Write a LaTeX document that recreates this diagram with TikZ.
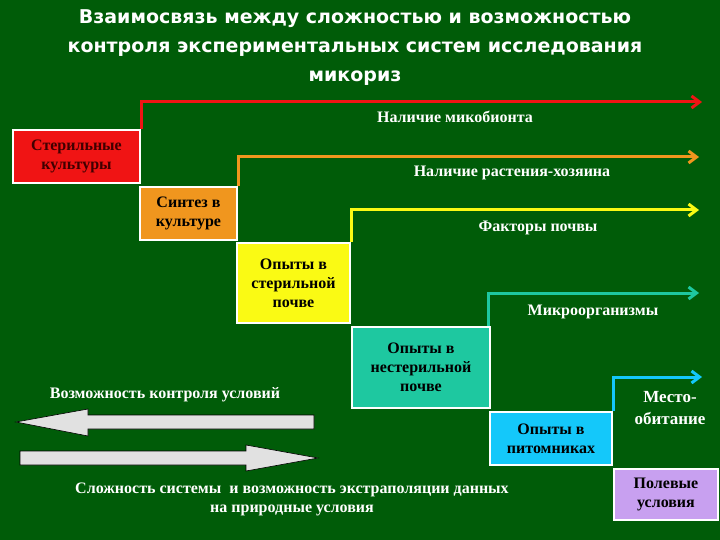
\documentclass[tikz,border=0pt]{standalone}
\usepackage{fontspec}
\setmainfont{Liberation Serif}
\newfontfamily\titlefont{DejaVu Sans}
\usetikzlibrary{arrows.meta}
\definecolor{bg}{RGB}{0,92,8}
\definecolor{cred}{RGB}{240,20,20}
\definecolor{corange}{RGB}{240,150,30}
\definecolor{cyellow}{RGB}{250,250,20}
\definecolor{cteal}{RGB}{30,200,160}
\definecolor{ccyan}{RGB}{20,200,250}
\definecolor{cviolet}{RGB}{200,160,240}
\definecolor{cgrey}{RGB}{225,225,225}
\begin{document}
\begin{tikzpicture}[x=1pt,y=-1pt,
  box/.style={draw=white,line width=2.5pt,align=center,inner sep=0pt,font=\bfseries\fontsize{16}{19}\selectfont,text=black},
  lbl/.style={text=white,font=\bfseries\fontsize{16}{19}\selectfont,align=center},
  stair/.style={line width=3pt,-{Straight Barb[length=8pt,width=12pt]}},
  bigarrow/.style={fill=cgrey,draw=black,line width=0.6pt}]
\fill[bg] (0,0) rectangle (720,540);
\useasboundingbox (0,0) rectangle (720,540);
\node[text=white,font=\titlefont\bfseries\fontsize{19}{29}\selectfont,align=center] (title) at (355,48)
 {Взаимосвязь между сложностью и возможностью\\контроля экспериментальных систем исследования\\микориз};
% boxes
\node[box,fill=cred,minimum width=127pt,minimum height=53pt,text=black!75!red] (b1) at (76.5,156.5) {Стерильные\\культуры};
\node[box,fill=corange,minimum width=97pt,minimum height=53pt] (b2) at (188.5,213.5) {Синтез в\\культуре};
\node[box,fill=cyellow,minimum width=113pt,minimum height=80pt] (b3) at (293.5,283) {Опыты в\\стерильной\\почве};
\node[box,fill=cteal,minimum width=138pt,minimum height=81pt] (b4) at (421,367.5) {Опыты в\\нестерильной\\почве};
\node[box,fill=ccyan,minimum width=122pt,minimum height=53pt] (b5) at (551,438.5) {Опыты в\\питомниках};
\node[box,fill=cviolet,minimum width=104pt,minimum height=51pt] (b6) at (666,494.5) {Полевые\\условия};
% stairs
\coordinate (e1) at (702,102);
\coordinate (e2) at (699,157);
\coordinate (e3) at (699,210);
\coordinate (e4) at (699,293);
\coordinate (e5) at (702,377);
\draw[stair,draw=cred] (b1.north east) |- (e1);
\draw[stair,draw=corange] (b2.north east) |- (e2);
\draw[stair,draw=cyellow] (b3.north east) |- (e3);
\draw[stair,draw=cteal] ([xshift=-3pt]b4.north east) |- (e4);
\draw[stair,draw=ccyan] (b5.north east) |- (e5);
\node[lbl] (l1) at (455,117) {Наличие микобионта};
\node[lbl] (l2) at (512,173) {Наличие растения-хозяина};
\node[lbl] (l3) at (538,228) {Факторы почвы};
\node[lbl] (l4) at (593,312) {Микроорганизмы};
\node[lbl,font=\bfseries\fontsize{17}{22}\selectfont] (l5) at (670,408) {Место-\\обитание};
% big arrows
\node[lbl] (ctrl) at (165,395) {Возможность контроля условий};
\draw[bigarrow] (16,422) -- (88,409) -- (88,415) -- (314,415) -- (314,429) -- (88,429) -- (88,436) -- cycle;
\draw[bigarrow] (318,458) -- (246,445) -- (246,451) -- (20,451) -- (20,465) -- (246,465) -- (246,471) -- cycle;
\node[lbl] (cplx) at (292,499) {Сложность системы\ \ и возможность экстраполяции данных\\на природные условия};
\end{tikzpicture}
\end{document}
